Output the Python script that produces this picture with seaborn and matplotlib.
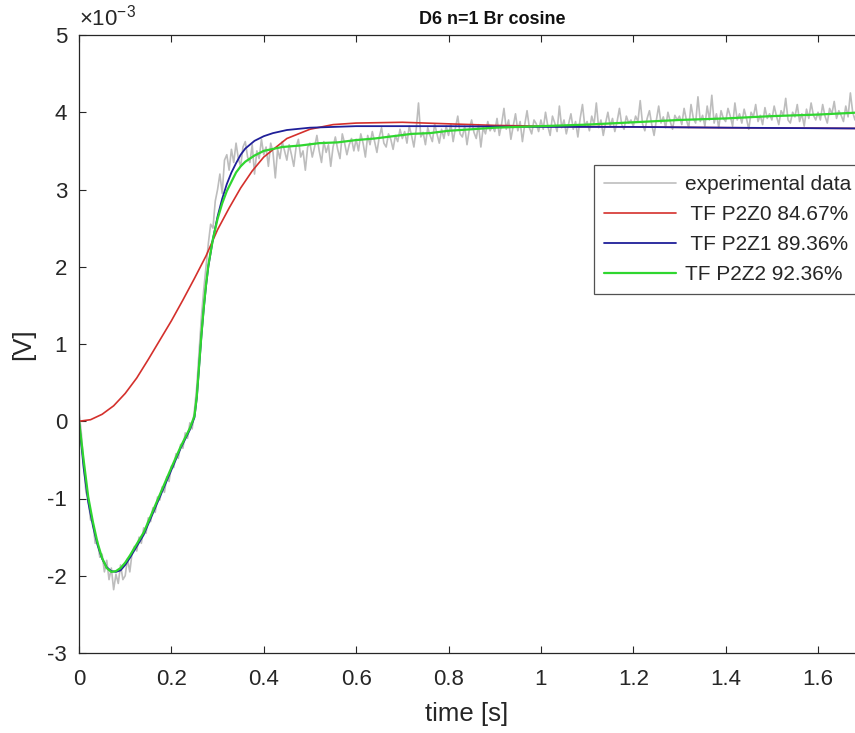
import numpy as np
import pandas as pd
import matplotlib
matplotlib.use("Agg")
import matplotlib.pyplot as plt
import seaborn as sns

# ---------------- data (values in units of 1e-3 V) ----------------
exp_dt = 0.005
exp_vals = [
    0.12, -0.15, -0.55, -0.92, -1.0, -1.28, -1.3, -1.58, -1.55, -1.76, -1.72, -1.95, -1.8, -2.05, -1.9, -2.18, -1.98, -2.1, -1.86, -2.05,
    -2.0, -1.78, -1.95, -1.7, -1.62, -1.68, -1.5, -1.58, -1.38, -1.45, -1.25, -1.3, -1.12, -1.18, -0.98, -1.02, -0.85, -0.92, -0.72, -0.78,
    -0.58, -0.6, -0.42, -0.48, -0.3, -0.35, -0.15, -0.22, -0.02, -0.1, 0.15, 0.45, 0.9, 1.35, 1.7, 2.0, 2.3, 2.55, 2.5, 2.85,
    3.0, 3.2, 2.95, 3.38, 3.45, 3.25, 3.52, 3.35, 3.6, 3.4, 3.3, 3.55, 3.62, 3.42, 3.35, 3.58, 3.2, 3.5, 3.4, 3.65,
    3.45, 3.55, 3.3, 3.6, 3.48, 3.15, 3.52, 3.4, 3.62, 3.5, 3.38, 3.58, 3.45, 3.3, 3.55, 3.65, 3.42, 3.5, 3.25, 3.55,
    3.6, 3.42, 3.55, 3.7, 3.5, 3.35, 3.62, 3.48, 3.58, 3.3, 3.55, 3.68, 3.52, 3.4, 3.72, 3.6, 3.45, 3.58, 3.66, 3.5,
    3.65, 3.5, 3.72, 3.6, 3.42, 3.7, 3.58, 3.75, 3.62, 3.48, 3.68, 3.8, 3.6, 3.55, 3.72, 3.65, 3.52, 3.7, 3.62, 3.78,
    3.66, 3.75, 3.6, 3.82, 3.7, 3.55, 3.78, 4.12, 3.68, 3.74, 3.58, 3.8, 3.7, 3.62, 3.85, 3.72, 3.6, 3.78, 3.66, 3.82,
    3.7, 3.85, 3.62, 3.8, 3.95, 3.72, 3.68, 3.82, 3.58, 3.78, 3.9, 3.74, 3.66, 3.84, 3.55, 3.8, 3.72, 3.88, 3.76, 3.82,
    3.75, 3.92, 3.7, 3.85, 4.05, 3.78, 3.9, 3.65, 3.82, 3.98, 3.76, 3.88, 3.62, 3.84, 4.02, 3.8, 3.72, 3.9, 3.85, 3.75,
    3.9, 3.78, 4.0, 3.82, 3.7, 3.95, 3.86, 3.75, 4.08, 3.8, 3.9, 3.72, 3.85, 3.98, 3.78, 3.88, 3.68, 3.92, 4.1, 3.82,
    3.88, 3.76, 3.95, 3.84, 4.12, 3.8, 3.9, 3.7, 3.86, 4.0, 3.82, 3.92, 3.75, 3.88, 4.05, 3.84, 3.78, 3.95, 3.86, 3.9,
    3.82, 3.95, 3.88, 4.15, 3.85, 3.76, 3.92, 4.02, 3.84, 3.7, 3.9, 4.08, 3.86, 3.94, 3.8, 4.0, 3.88, 3.78, 3.96, 3.9,
    3.95, 3.84, 4.05, 3.9, 3.8, 4.1, 3.92, 3.86, 4.2, 3.88, 3.96, 3.82, 4.08, 3.9, 4.22, 3.86, 3.98, 3.8, 4.02, 3.92,
    3.88, 4.05, 3.95, 3.82, 4.12, 3.9, 3.98, 3.86, 4.04, 3.92, 3.78, 4.0, 3.94, 4.1, 3.88, 3.96, 3.84, 4.06, 3.92, 3.98,
    3.9, 4.08, 3.95, 3.84, 4.02, 3.96, 4.18, 3.9, 3.86, 4.0, 3.94, 4.1, 3.88, 3.98, 3.82, 4.04, 3.92, 4.12, 3.96, 3.9,
    4.0, 3.9, 4.1, 3.95, 3.86, 4.05, 3.98, 4.14, 3.92, 4.02, 3.96, 3.88, 4.08, 3.94, 4.25, 4.0, 3.9, 4.05, 3.98, 4.02,
]
exp_t = [round(i * exp_dt, 4) for i in range(len(exp_vals))]

p2z0_t = [0, 0.025, 0.05, 0.075, 0.1, 0.125, 0.15, 0.175, 0.2, 0.225, 0.25, 0.275, 0.3,
          0.325, 0.35, 0.375, 0.4, 0.45, 0.5, 0.55, 0.6, 0.7, 0.8, 0.9, 1.0, 1.2, 1.4, 1.7]
p2z0_v = [0, 0.02, 0.09, 0.2, 0.36, 0.56, 0.8, 1.05, 1.3, 1.57, 1.85, 2.14, 2.48,
          2.76, 3.02, 3.24, 3.42, 3.66, 3.78, 3.84, 3.86, 3.87, 3.85, 3.83, 3.82, 3.81, 3.80, 3.79]

p2z1_t = [0, 0.01, 0.02, 0.03, 0.04, 0.05, 0.06, 0.07, 0.08, 0.09, 0.1, 0.11, 0.12, 0.13, 0.14,
          0.16, 0.18, 0.2, 0.22, 0.24, 0.25, 0.255, 0.26, 0.265, 0.27, 0.275, 0.28, 0.29, 0.3,
          0.31, 0.32, 0.33, 0.34, 0.35, 0.36, 0.38, 0.4, 0.42, 0.45, 0.5, 0.6, 0.8, 1.0, 1.2, 1.4, 1.7]
p2z1_v = [0, -0.6, -1.05, -1.35, -1.6, -1.78, -1.89, -1.94, -1.95, -1.93, -1.86, -1.77, -1.67, -1.57, -1.47,
          -1.19, -0.91, -0.63, -0.35, -0.11, 0.05, 0.3, 0.7, 1.1, 1.45, 1.75, 2.0, 2.36, 2.65,
          2.88, 3.07, 3.22, 3.34, 3.45, 3.53, 3.63, 3.69, 3.73, 3.77, 3.8, 3.82, 3.82, 3.81, 3.81, 3.80, 3.79]

p2z2_t = [0, 0.01, 0.02, 0.03, 0.04, 0.05, 0.06, 0.07, 0.08, 0.09, 0.1, 0.11, 0.12, 0.13, 0.14,
          0.16, 0.18, 0.2, 0.22, 0.24, 0.25, 0.255, 0.26, 0.265, 0.27, 0.275, 0.28, 0.29, 0.3,
          0.31, 0.32, 0.33, 0.34, 0.35, 0.36, 0.38, 0.4, 0.44, 0.48, 0.52, 0.56, 0.6, 0.64, 0.68,
          0.72, 0.76, 0.8, 0.85, 0.9, 0.95, 1.0, 1.1, 1.2, 1.3, 1.4, 1.5, 1.6, 1.7]
p2z2_v = [0, -0.5, -0.98, -1.3, -1.57, -1.77, -1.9, -1.95, -1.94, -1.9, -1.83, -1.74, -1.64, -1.54, -1.44,
          -1.16, -0.88, -0.6, -0.33, -0.09, 0.07, 0.32, 0.72, 1.12, 1.47, 1.77, 2.02, 2.36, 2.62,
          2.82, 2.98, 3.1, 3.22, 3.3, 3.36, 3.44, 3.5, 3.55, 3.57, 3.6, 3.61, 3.64, 3.66, 3.69,
          3.72, 3.73, 3.76, 3.78, 3.8, 3.81, 3.82, 3.84, 3.87, 3.9, 3.92, 3.95, 3.97, 4.0]

labels = ["experimental data", " TF P2Z0 84.67%", " TF P2Z1 89.36%", "TF P2Z2 92.36%"]
x_ticks = [0, 0.2, 0.4, 0.6, 0.8, 1.0, 1.2, 1.4, 1.6]
x_tick_labels = ["0", "0.2", "0.4", "0.6", "0.8", "1", "1.2", "1.4", "1.6"]
y_ticks = [-3, -2, -1, 0, 1, 2, 3, 4, 5]

# ---------------- plot ----------------
sns.set_style("ticks")
plt.rcParams["font.family"] = ["Liberation Sans", "DejaVu Sans"]
plt.rcParams["mathtext.fontset"] = "custom"
plt.rcParams["mathtext.rm"] = "Liberation Sans"
plt.rcParams["axes.unicode_minus"] = False

TXT = "#262626"
fig = plt.figure(figsize=(8.55, 7.33), dpi=100)
ax = fig.add_axes([79 / 855, 1 - 653 / 733, 1 - 79 / 855, (653 - 35) / 733])

series = [
    (exp_t, exp_vals, labels[0], "#bdbdbd", 1.2),
    (p2z0_t, p2z0_v, labels[1], "#d4302c", 1.2),
    (p2z1_t, p2z1_v, labels[2], "#1f1f99", 1.3),
    (p2z2_t, p2z2_v, labels[3], "#2fd62f", 1.6),
]
for t, v, lab, col, lw in series:
    df = pd.DataFrame({"t": t, "v": v})
    sns.lineplot(data=df, x="t", y="v", ax=ax, color=col, linewidth=lw,
                 label=lab, estimator=None, sort=False)

ax.set_xlim(0, 1.68)
ax.set_ylim(-3, 5)
ax.set_xticks(x_ticks)
ax.set_xticklabels(x_tick_labels)
ax.set_yticks(y_ticks)
ax.tick_params(direction="in", length=5, width=0.8, colors=TXT,
               labelsize=16, top=True, right=False)
ax.tick_params(axis="x", pad=11.5)
ax.tick_params(axis="y", pad=8.5)
for s in ["left", "bottom", "top"]:
    ax.spines[s].set_color(TXT)
    ax.spines[s].set_linewidth(0.9)
ax.spines["right"].set_visible(False)

ax.set_xlabel("time [s]", fontsize=18.5, color=TXT, labelpad=9)
ax.set_ylabel("[V]", fontsize=18.5, color=TXT, labelpad=9)
ax.text(0.0, 1.008, r"$\times10^{-3}$", transform=ax.transAxes, fontsize=16,
        color=TXT, ha="left", va="bottom")
ax.text((492 - 79) / 776, 1.012, "D6 n=1 Br cosine", transform=ax.transAxes,
        fontsize=13, fontweight="bold", ha="center", va="bottom", color="#111111")

leg = ax.legend(loc="upper left", bbox_to_anchor=((594 - 79) / 776, (653 - 165) / 618),
                frameon=True, fancybox=False, edgecolor=TXT, fontsize=15,
                handlelength=3.45, handletextpad=0.4, borderpad=0.5, labelspacing=0.52,
                borderaxespad=0)
leg.get_frame().set_linewidth(0.9)

fig.savefig("out.png", dpi=100, facecolor="white")
